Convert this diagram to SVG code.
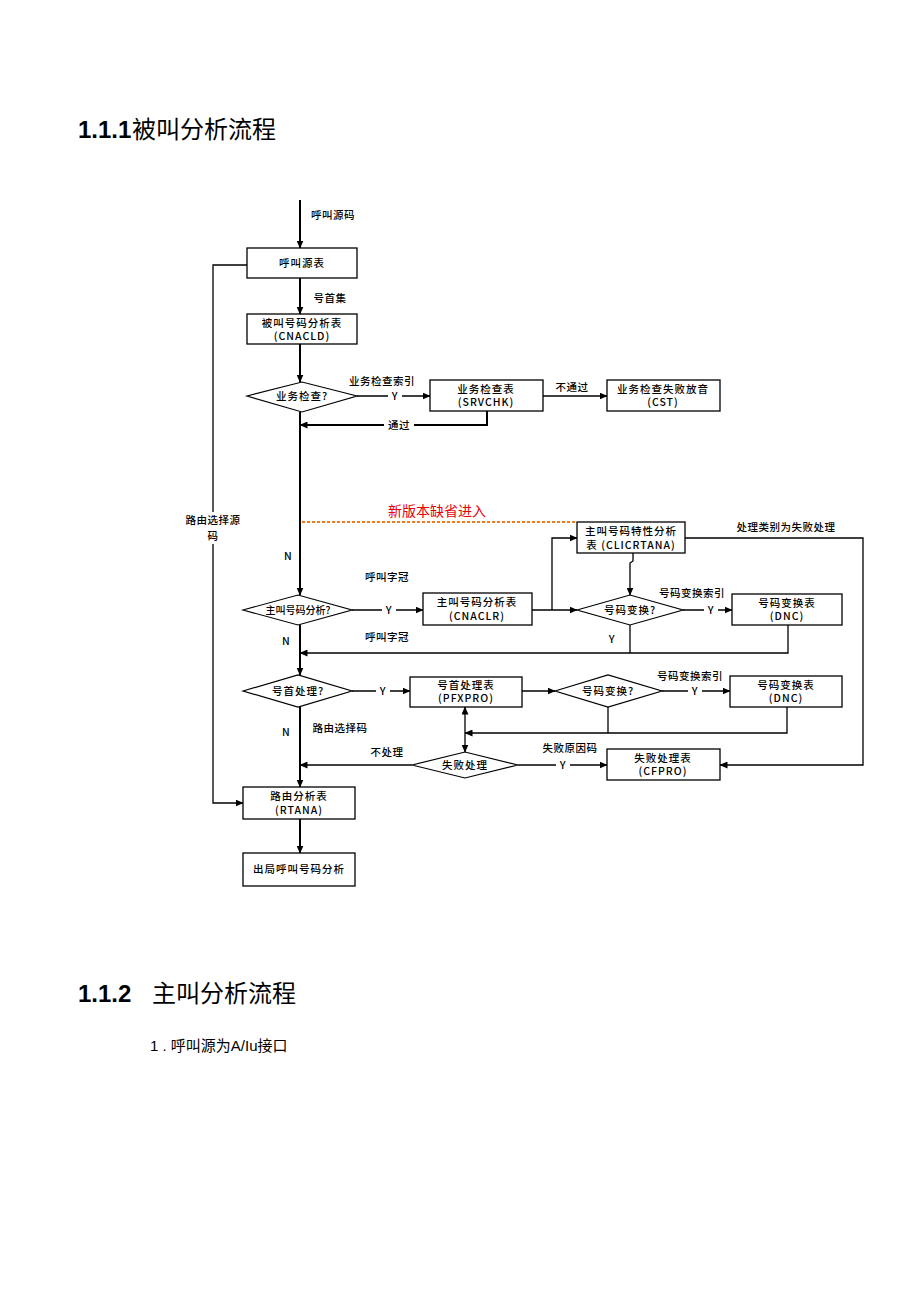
<svg xmlns="http://www.w3.org/2000/svg" width="920" height="1302" viewBox="0 0 920 1302">
<defs>
<marker id="ah" markerWidth="8" markerHeight="7" refX="7.5" refY="3.5" orient="auto-start-reverse" markerUnits="userSpaceOnUse">
<path d="M0,0 L8,3.5 L0,7 z" fill="#000"/>
</marker>
<style>
.bg{fill:#fff}
.box{fill:#fff;stroke:#000;stroke-width:1.3}
.dia{fill:#fff;stroke:#000;stroke-width:1.2}
.ln{fill:none;stroke:#000;stroke-width:1.3}
.tr{fill:none;stroke:#000;stroke-width:2}
.arr{marker-end:url(#ah)}
.t{font-family:"Noto Sans CJK SC","Liberation Sans",sans-serif;font-size:10.5px;fill:#000;text-anchor:middle;letter-spacing:1px;font-weight:500}
.lb{font-family:"Noto Sans CJK SC","Liberation Sans",sans-serif;font-size:10.5px;fill:#000;text-anchor:middle;letter-spacing:0.5px;font-weight:500}
.h{font-family:"Liberation Sans","Noto Sans CJK SC",sans-serif;font-size:24px;fill:#000}
.hc{font-family:"Noto Sans CJK SC","Liberation Sans",sans-serif;font-size:24px;fill:#000}
</style>
</defs>
<rect class="bg" x="0" y="0" width="920" height="1302"/>

<g id="title1"><text x="78" y="138" class="h" font-weight="bold">1.1.1</text><text x="132" y="138" class="hc">被叫分析流程</text></g>

<g id="connectors">
<path class="tr arr" d="M300,200 V248"/>
<path class="tr arr" d="M300,278 V314"/>
<path class="tr arr" d="M300,344 V382"/>
<path class="ln arr" d="M357,396 H430"/>
<path class="ln arr" d="M543,396 H607"/>
<path class="tr arr" d="M487,411 V425 H300"/>
<path class="tr arr" d="M300,412 V595"/>
<path fill="none" stroke="#f07820" stroke-width="2" stroke-dasharray="3,2" d="M302,522 H577"/>
<path class="ln arr" d="M352,610 H423"/>
<path class="ln arr" d="M532,610 H577"/>
<path class="ln arr" d="M552,610 V538 H577"/>
<path class="ln arr" d="M633,553 V561 L630,563 V595"/>
<path class="ln arr" d="M685,538 H863 V765 H720"/>
<path class="ln arr" d="M683,610 H732"/>
<path class="ln arr" d="M788,625 V653 H300"/>
<path class="ln" d="M630,625 V653"/>
<path class="tr arr" d="M300,625 V675"/>
<path class="ln arr" d="M352,691 H410"/>
<path class="ln arr" d="M522,691 H555"/>
<path class="ln arr" d="M662,691 H730"/>
<path class="ln arr" d="M787,707 V733 H465"/>
<path class="ln" d="M608,707 V733"/>
<path class="ln" d="M465,707 V752" marker-start="url(#ah)" marker-end="url(#ah)"/>
<path class="ln arr" d="M412,765 H300"/>
<path class="ln arr" d="M518,765 H607"/>
<path class="tr arr" d="M300,707 V787"/>
<path class="ln arr" d="M247,265 H213 V803 H243"/>
<path class="tr arr" d="M300,819 V853"/>

<rect class="bg" x="388" y="389" width="14" height="14"/>
<text x="395" y="400" class="lb">Y</text>
<text x="333" y="219" class="lb">呼叫源码</text>
<text x="330" y="302" class="lb">号首集</text>
<text x="382" y="385" class="lb">业务检查索引</text>
<text x="572" y="391" class="lb">不通过</text>
<rect class="bg" x="384" y="418" width="30" height="14"/>
<text x="399" y="429" class="lb">通过</text>
<text x="437" y="516" font-family="Noto Sans CJK SC,sans-serif" font-size="14" fill="#e8000b" text-anchor="middle">新版本缺省进入</text>
<rect class="bg" x="180" y="512" width="66" height="32"/>
<text x="213" y="524" class="lb">路由选择源</text>
<text x="213" y="540" class="lb">码</text>
<text x="288" y="560" class="lb">N</text>
<text x="387" y="581" class="lb">呼叫字冠</text>
<rect class="bg" x="382" y="603" width="14" height="14"/>
<text x="389" y="614" class="lb">Y</text>
<text x="786" y="531" class="lb">处理类别为失败处理</text>
<text x="692" y="597" class="lb">号码变换索引</text>
<rect class="bg" x="704" y="603" width="14" height="14"/>
<text x="711" y="614" class="lb">Y</text>
<text x="612" y="643" class="lb">Y</text>
<text x="286" y="645" class="lb">N</text>
<text x="387" y="641" class="lb">呼叫字冠</text>
<rect class="bg" x="376" y="684" width="14" height="14"/>
<text x="383" y="695" class="lb">Y</text>
<text x="690" y="680" class="lb">号码变换索引</text>
<rect class="bg" x="688" y="684" width="14" height="14"/>
<text x="695" y="695" class="lb">Y</text>
<text x="286" y="736" class="lb">N</text>
<text x="340" y="732" class="lb">路由选择码</text>
<text x="387" y="756" class="lb">不处理</text>
<text x="570" y="752" class="lb">失败原因码</text>
<rect class="bg" x="556" y="758" width="14" height="14"/>
<text x="563" y="769" class="lb">Y</text>
</g>

<g id="n_callsrc"><rect class="box" x="247" y="248" width="110" height="30"/><text x="302" y="267" class="t">呼叫源表</text></g>
<g id="n_cnacld"><rect class="box" x="247" y="314" width="110" height="30"/><text x="302" y="327" class="t">被叫号码分析表</text><text x="302" y="340" class="t">(CNACLD)</text></g>
<g id="n_svcq"><polygon class="dia" points="247,396 302,382 357,396 302,412"/><text x="302" y="400" class="t">业务检查?</text></g>
<g id="n_srvchk"><rect class="box" x="430" y="380" width="113" height="31"/><text x="486" y="393" class="t">业务检查表</text><text x="486" y="406" class="t">(SRVCHK)</text></g>
<g id="n_cst"><rect class="box" x="607" y="380" width="113" height="31"/><text x="663" y="393" class="t">业务检查失败放音</text><text x="663" y="406" class="t">(CST)</text></g>
<g id="n_clicrtana"><rect class="box" x="577" y="522" width="108" height="31" stroke-width="2"/><text x="631" y="535" class="t">主叫号码特性分析</text><text x="631" y="549" class="t">表 (CLICRTANA)</text></g>
<g id="n_cliq"><polygon class="dia" points="243,610 298,595 352,610 298,625"/><text x="298" y="614" class="t" style="letter-spacing:0;font-size:10px">主叫号码分析?</text></g>
<g id="n_cnaclr"><rect class="box" x="423" y="593" width="109" height="32"/><text x="477" y="606" class="t">主叫号码分析表</text><text x="477" y="620" class="t">(CNACLR)</text></g>
<g id="n_dncq1"><polygon class="dia" points="577,610 630,595 683,610 630,625"/><text x="630" y="614" class="t">号码变换?</text></g>
<g id="n_dnc1"><rect class="box" x="732" y="594" width="110" height="31"/><text x="787" y="607" class="t">号码变换表</text><text x="787" y="620" class="t">(DNC)</text></g>
<g id="n_pfxq"><polygon class="dia" points="243,691 298,675 352,691 298,707"/><text x="298" y="695" class="t">号首处理?</text></g>
<g id="n_pfxpro"><rect class="box" x="410" y="677" width="112" height="30"/><text x="466" y="689" class="t">号首处理表</text><text x="466" y="702" class="t">(PFXPRO)</text></g>
<g id="n_dncq2"><polygon class="dia" points="555,691 608,675 662,691 608,707"/><text x="608" y="695" class="t">号码变换?</text></g>
<g id="n_dnc2"><rect class="box" x="730" y="676" width="112" height="31"/><text x="786" y="689" class="t">号码变换表</text><text x="786" y="702" class="t">(DNC)</text></g>
<g id="n_failq"><polygon class="dia" points="412,765 465,752 518,765 465,778"/><text x="465" y="769" class="t">失败处理</text></g>
<g id="n_cfpro"><rect class="box" x="607" y="749" width="113" height="31"/><text x="663" y="762" class="t">失败处理表</text><text x="663" y="775" class="t">(CFPRO)</text></g>
<g id="n_rtana"><rect class="box" x="243" y="787" width="112" height="32"/><text x="299" y="800" class="t">路由分析表</text><text x="299" y="814" class="t">(RTANA)</text></g>
<g id="n_out"><rect class="box" x="243" y="853" width="112" height="33"/><text x="299" y="873" class="t">出局呼叫号码分析</text></g>

<g id="title2"><text x="78" y="1002" class="h" font-weight="bold">1.1.2</text><text x="152" y="1002" class="hc">主叫分析流程</text></g>
<g id="para"><text x="150" y="1051" font-family="Liberation Sans,Noto Sans CJK SC,sans-serif" font-size="15" fill="#000">1 . 呼叫源为A/Iu接口</text></g>
</svg>
